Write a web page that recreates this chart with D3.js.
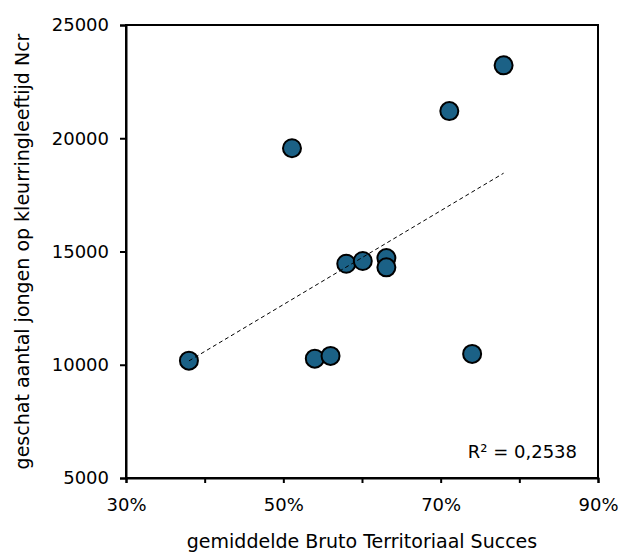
<!DOCTYPE html>
<html><head><meta charset="utf-8">
<script src="https://cdn.jsdelivr.net/npm/d3@7"></script>
<style>body{margin:0;background:#fff}text{font-family:"DejaVu Sans",sans-serif;fill:#000}</style>
</head><body><svg id="c" width="627" height="554"></svg>
<script>
const xVals = [38.0, 51.1, 71.1, 78.0, 54.0, 56.0, 74.0, 58.0, 60.1, 63.1, 63.1];
const yVals = [10180, 19560, 21200, 23220, 10270, 10390, 10480, 14460, 14580, 14710, 14300];
const xTicks = [30, 40, 50, 60, 70, 80, 90];
const xTickLabels = ["30%", "", "50%", "", "70%", "", "90%"];
const yTicks = [5000, 10000, 15000, 20000, 25000];
const r2Label = "R² = 0,2538";
const xTitle = "gemiddelde Bruto Territoriaal Succes";
const yTitle = "geschat aantal jongen op kleurringleeftijd Ncr";

const svg = d3.select("#c");
const L = 126, R = 598, T = 25, B = 478;
const x = d3.scaleLinear().domain([30, 90]).range([L, R]);
const y = d3.scaleLinear().domain([5000, 25000]).range([B, T]);

svg.append("rect").attr("x", L).attr("y", T).attr("width", R - L).attr("height", B - T)
  .attr("fill", "none").attr("stroke", "#000").attr("stroke-width", 2);

const xa = svg.append("g").attr("transform", `translate(0,${B})`)
  .call(d3.axisBottom(x).tickValues(xTicks).tickSize(5).tickFormat((d, i) => xTickLabels[i]));
xa.select(".domain").attr("stroke-width", 2);
xa.selectAll(".tick line").attr("stroke-width", 2);
xa.selectAll(".tick text").attr("font-size", 18).attr("font-family", "DejaVu Sans").attr("y", 20);

const ya = svg.append("g").attr("transform", `translate(${L},0)`)
  .call(d3.axisLeft(y).tickValues(yTicks).tickSize(6).tickFormat(d3.format("d")));
ya.select(".domain").attr("stroke-width", 2);
ya.selectAll(".tick line").attr("stroke-width", 2);
ya.selectAll(".tick text").attr("font-size", 18).attr("font-family", "DejaVu Sans").attr("x", -17);

const pts = xVals.map((v, i) => ({x: v, y: yVals[i]}));
svg.append("g").selectAll("circle").data(pts).join("circle")
  .attr("cx", d => x(d.x)).attr("cy", d => y(d.y)).attr("r", 9)
  .attr("fill", "#1b6186").attr("stroke", "#000").attr("stroke-width", 2);

const mx = d3.mean(xVals), my = d3.mean(yVals);
const sxy = d3.sum(pts, d => (d.x - mx) * (d.y - my));
const sxx = d3.sum(pts, d => (d.x - mx) ** 2);
const slope = sxy / sxx, icpt = my - slope * mx;
const [x0, x1] = d3.extent(xVals);
svg.append("line")
  .attr("x1", x(x0)).attr("y1", y(icpt + slope * x0))
  .attr("x2", x(x1)).attr("y2", y(icpt + slope * x1))
  .attr("stroke", "#000").attr("stroke-width", 1).attr("stroke-dasharray", "4,3");

svg.append("text").attr("x", 577).attr("y", 458).attr("text-anchor", "end")
  .attr("font-size", 18).text(r2Label);

svg.append("text").attr("x", (L + R) / 2).attr("y", 548).attr("text-anchor", "middle")
  .attr("font-size", 19).text(xTitle);

svg.append("text").attr("transform", `translate(29,${(T + B) / 2}) rotate(-90)`)
  .attr("text-anchor", "middle").attr("font-size", 19).text(yTitle);
</script></body></html>
